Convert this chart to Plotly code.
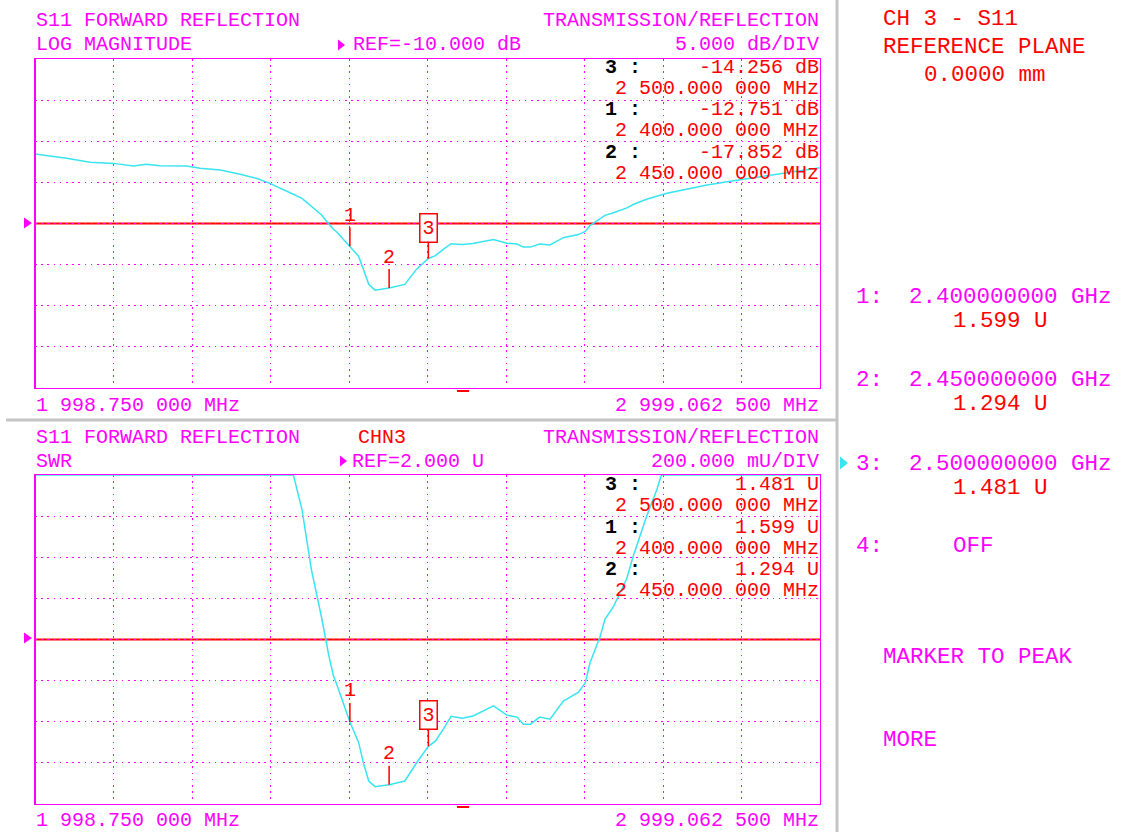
import numpy as np
import plotly.graph_objects as go

W, H = 1123, 832

# ---------------- data ----------------
freq_mhz = [1998.75, 2039, 2069, 2099, 2124, 2141, 2158, 2192, 2209, 2235, 2260, 2281,
            2298, 2315, 2328, 2339, 2351, 2364, 2368, 2373, 2379, 2383, 2400, 2411,
            2417, 2424, 2432, 2440, 2450, 2470, 2485, 2500, 2509, 2519, 2529, 2543,
            2557, 2583, 2600, 2613, 2621, 2630, 2642, 2655, 2672, 2691, 2700, 2706,
            2719, 2725, 2736, 2753, 2761, 2778, 2791, 2797, 2804, 2829, 2855, 2889,
            2914, 2940, 2969, 2999.0625]
s11_db = [-1.56, -2.08, -2.56, -2.69, -3.01, -2.81, -2.98, -3.01, -3.29, -3.50, -4.02, -4.51,
          -5.12, -5.93, -6.45, -6.95, -7.94, -8.97, -9.45, -10.0, -10.7, -11.0, -12.751, -13.97,
          -15.5, -17.4, -18.1, -18.0, -17.852, -17.4, -15.55, -14.256, -13.9, -13.15, -12.45, -12.55,
          -12.43, -11.94, -12.39, -12.49, -12.87, -12.87, -12.49, -12.6, -11.72, -11.35, -10.96, -10.25,
          -9.45, -9.01, -8.70, -8.10, -7.69, -7.05, -6.68, -6.49, -6.33, -5.84, -5.32, -4.80,
          -4.43, -4.11, -3.71, -3.22]

marker_ids = ["1", "2", "3"]
marker_freq = [2400.0, 2450.0, 2500.0]
marker_db = [-12.751, -17.852, -14.256]
marker_swr = [1.599, 1.294, 1.481]
readout_order = [2, 0, 1]          # readout list shows markers 3, 1, 2
active_marker = 2                  # marker 3 is active (boxed)

f_start, f_stop = 1998.750, 2999.0625
db_ref, db_div = -10.0, 5.0
swr_ref, swr_div = 2.0, 0.2
n_xdiv, n_ydiv = 10, 8

# SWR derived from the measured reflection; display saturates at the top of the grid
gam = 10 ** (np.array(s11_db) / 20.0)
swr = (1 + gam) / (1 - gam)
swr_top = swr_ref + swr_div * n_ydiv / 2
swr_bot = swr_ref - swr_div * n_ydiv / 2
swr_disp = np.minimum(swr, swr_top)

# ---------------- styling ----------------
MAG = "#FF00FF"
RED = "#FF0000"
CYAN = "#38E4F0"
GRAY = "#C4C4C4"
FONT = "Liberation Mono"

def px(x):
    return x / W

def py(y):
    return 1 - y / H

def fmt_mhz(f):
    s = f"{f:.6f}"
    ip, fp = s.split(".")
    ip_g = []
    while len(ip) > 3:
        ip_g.insert(0, ip[-3:])
        ip = ip[:-3]
    ip_g.insert(0, ip)
    return " ".join(ip_g) + "." + fp[:3] + " " + fp[3:] + " MHz"

fig = go.Figure()
fig.add_trace(go.Scatter(x=freq_mhz, y=s11_db, mode="lines",
                         line=dict(color=CYAN, width=1.5), xaxis="x", yaxis="y",
                         hoverinfo="skip", cliponaxis=False))
fig.add_trace(go.Scatter(x=freq_mhz, y=swr_disp, mode="lines",
                         line=dict(color=CYAN, width=1.5), xaxis="x2", yaxis="y2",
                         hoverinfo="skip", cliponaxis=False))

x_dom = [px(35), px(820)]
top_dom = [py(388), py(59)]
bot_dom = [py(804), py(475)]

axis_common = dict(showticklabels=False, ticks="", showgrid=True, gridcolor=MAG,
                   griddash="1.5px,4.7px", gridwidth=1.3, zeroline=False, showline=True,
                   linecolor=MAG, linewidth=1, mirror=True, layer="below traces",
                   fixedrange=True)
xdt = (f_stop - f_start) / n_xdiv

fig.update_layout(
    width=W, height=H, margin=dict(l=0, r=0, t=0, b=0),
    paper_bgcolor="white", plot_bgcolor="white", showlegend=False,
    xaxis=dict(domain=x_dom, range=[f_start, f_stop], tick0=f_start, dtick=xdt,
               anchor="y", **axis_common),
    yaxis=dict(domain=top_dom, range=[db_ref - db_div * n_ydiv / 2, db_ref + db_div * n_ydiv / 2],
               tick0=db_ref, dtick=db_div, anchor="x", **axis_common),
    xaxis2=dict(domain=x_dom, range=[f_start, f_stop], tick0=f_start, dtick=xdt,
                anchor="y2", **axis_common),
    yaxis2=dict(domain=bot_dom, range=[swr_bot, swr_top], tick0=swr_ref, dtick=swr_div,
                anchor="x2", **axis_common),
)

ann = []
shapes = []

def txt(x, y, s, color, size=20, anchor="left", bold=False, height=None):
    a = dict(x=px(x), y=py(y), xref="paper", yref="paper",
             text=f"<b>{s}</b>" if bold else s, showarrow=False,
             xanchor=anchor, yanchor="middle", borderpad=0,
             font=dict(family=FONT, size=size, color=color))
    if height:
        a["height"] = height
    ann.append(a)

def tri(x, y, w, h, color):
    shapes.append(dict(type="path", xref="paper", yref="paper",
                       path=f"M {px(x):.5f},{py(y - h / 2):.5f} L {px(x + w):.5f},{py(y):.5f} L {px(x):.5f},{py(y + h / 2):.5f} Z",
                       fillcolor=color, line=dict(color=color, width=0)))

# reference lines
for xr, yr, val in (("x", "y", db_ref), ("x2", "y2", swr_ref)):
    shapes.append(dict(type="line", xref=xr, yref=yr, x0=f_start, x1=f_stop,
                       y0=val, y1=val, line=dict(color=RED, width=2), layer="below"))

# thicker left frame edge
for y0, y1 in ((59, 388), (475, 804)):
    shapes.append(dict(type="line", xref="paper", yref="paper", x0=px(35), x1=px(35),
                       y0=py(y0), y1=py(y1), line=dict(color=MAG, width=2)))

# small red bars under the frames
for yb in (390, 806):
    shapes.append(dict(type="rect", xref="paper", yref="paper", x0=px(457), x1=px(469),
                       y0=py(yb + 2), y1=py(yb), fillcolor=RED, line=dict(width=0)))

# gray separators
shapes.append(dict(type="line", xref="paper", yref="paper", x0=px(6), x1=px(837),
                   y0=py(420), y1=py(420), line=dict(color=GRAY, width=3)))
shapes.append(dict(type="line", xref="paper", yref="paper", x0=px(837), x1=px(837),
                   y0=py(0), y1=py(832), line=dict(color=GRAY, width=3)))

# reference position triangles
tri(24, 223, 8, 11, MAG)
tri(24, 638, 8, 11, MAG)
tri(338, 45, 7, 11, MAG)
tri(340, 461, 7, 11, MAG)
tri(840, 463, 8, 13, CYAN)

# ---- top header ----
txt(35, 20, "S11 FORWARD REFLECTION", MAG)
txt(35, 45, "LOG MAGNITUDE", MAG)
txt(522, 45, "REF=-10.000 dB", MAG, anchor="right")
txt(820, 20, "TRANSMISSION/REFLECTION", MAG, anchor="right")
txt(820, 45, "5.000 dB/DIV", MAG, anchor="right")
txt(35, 405, fmt_mhz(f_start), MAG)
txt(820, 405, fmt_mhz(f_stop), MAG, anchor="right")

# ---- bottom header ----
txt(35, 437, "S11 FORWARD REFLECTION", MAG)
txt(357, 437, "CHN3", RED)
txt(820, 437, "TRANSMISSION/REFLECTION", MAG, anchor="right")
txt(35, 461, "SWR", MAG)
txt(485, 461, "REF=2.000 U", MAG, anchor="right")
txt(820, 461, "200.000 mU/DIV", MAG, anchor="right")
txt(35, 820, fmt_mhz(f_start), MAG)
txt(820, 820, fmt_mhz(f_stop), MAG, anchor="right")

# ---- marker readouts ----
top_rows = [67, 109, 152]
bot_rows = [484, 527, 569]
for k, i in enumerate(readout_order):
    for rows, val in ((top_rows, f"{marker_db[i]:.3f} dB"), (bot_rows, f"{marker_swr[i]:.3f} U")):
        y0 = rows[k]
        txt(604, y0, f"{marker_ids[i]} :", "black", bold=True)
        txt(820, y0, val, RED, anchor="right")
        txt(820, y0 + 21.5, fmt_mhz(marker_freq[i]), RED, anchor="right")

# ---- markers on traces ----
for i in range(3):
    for xr, yr, val in (("x", "y", marker_db[i]), ("x2", "y2", marker_swr[i])):
        a = dict(x=marker_freq[i], y=val, xref=xr, yref=yr, text=marker_ids[i],
                 showarrow=True, arrowhead=0, arrowwidth=1.5, arrowcolor=RED,
                 ax=0, ay=-31, font=dict(family=FONT, size=20, color=RED))
        if i == active_marker:
            a.update(bordercolor=RED, borderwidth=1.5, borderpad=2, bgcolor="white")
        else:
            a.update(borderpad=0)
        ann.append(a)

# ---- right panel ----
RS = 22.5
RH = 21
txt(882, 19, "CH 3 - S11", RED, size=RS, height=RH)
txt(882, 47, "REFERENCE PLANE", RED, size=RS, height=RH)
txt(923, 75, "0.0000 mm", RED, size=RS, height=RH)
panel_rows = [(296, 320), (380, 403), (463, 487)]
for i in range(3):
    yf, yv = panel_rows[i]
    txt(855, yf, f"{marker_ids[i]}:", MAG, size=RS, height=RH)
    txt(1113, yf, f"{marker_freq[i] / 1000:.9f} GHz", MAG, size=RS, anchor="right", height=RH)
    txt(952, yv, f"{marker_swr[i]:.3f} U", RED, size=RS, height=RH)
txt(855, 545, "4:", MAG, size=RS, height=RH)
txt(952, 545, "OFF", MAG, size=RS, height=RH)
txt(882, 656, "MARKER TO PEAK", MAG, size=RS, height=RH)
txt(882, 739, "MORE", MAG, size=RS, height=RH)

fig.update_layout(annotations=ann, shapes=shapes)
fig.write_html("out.html", config={"displayModeBar": False},
               post_script="document.body.style.margin='0';")
